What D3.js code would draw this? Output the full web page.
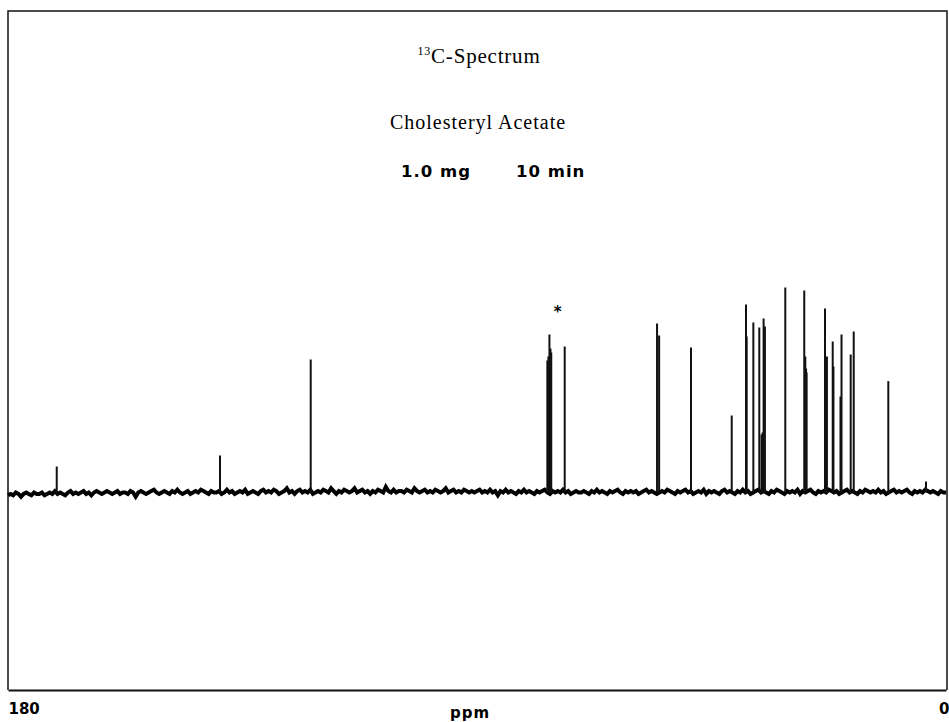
<!DOCTYPE html>
<html>
<head>
<meta charset="utf-8">
<script src="https://cdn.jsdelivr.net/npm/d3@7"></script>
<style>
  body { margin: 0; background: #fff; }
  svg { display: block; }
</style>
</head>
<body>
<svg id="chart" width="949" height="722"></svg>
<script>
// peak positions (ppm) and heights (fraction of the plot scale)
var peakPpm = [170.65, 139.32, 121.91, 76.5, 76.3, 76.1, 75.9, 75.75, 73.17, 55.45, 55.05, 48.93,
  41.12, 38.38, 38.25, 36.97, 35.83, 35.4, 35.2, 35.0, 34.75, 30.84,
  27.2, 27.0, 26.85, 26.75, 23.22, 22.85, 21.74, 21.6, 20.25, 20.05, 18.29,
  17.71, 11.07, 3.84];
var peakHeight = [0.13, 0.185, 0.665, 0.66, 0.68, 0.79, 0.72, 0.70, 0.73, 0.845, 0.785, 0.725,
  0.385, 0.94, 0.78, 0.85, 0.825, 0.29, 0.30, 0.87, 0.83, 1.025,
  1.01, 0.68, 0.62, 0.60, 0.92, 0.68, 0.755, 0.63, 0.48, 0.79, 0.69,
  0.805, 0.557, 0.055];

// baseline noise, one value every 0.5 ppm from 180 down to 0, in px of the trace (up = +)
var noiseStep = 0.5;
var baselineNoise = [
  -2,-1,-2,0,-1,-3,-1,0,-1,-2,0,-1,-1,0,-2,-1,0,-1,1,-1,
  0,-1,-2,0,1,-1,0,-1,0,1,-1,0,-2,0,1,0,-1,0,1,0,
  -1,0,1,-1,0,0,-1,1,0,-3,0,1,0,-1,0,1,2,0,-1,0,
  1,0,-1,1,0,2,0,-1,0,1,-1,0,1,0,2,1,0,-1,1,0,
  0,1,-1,0,2,0,1,-1,0,1,0,2,-1,0,1,0,-1,1,2,0,
  1,0,2,1,-1,0,1,3,0,1,-1,1,2,0,1,0,2,-1,0,1,
  0,2,1,0,3,1,-1,1,0,2,1,0,1,3,0,1,2,0,1,-1,
  1,0,2,1,0,4,1,0,2,0,1,1,0,2,1,0,3,1,0,1,
  2,0,1,0,2,1,0,1,3,0,1,2,0,1,0,2,1,0,1,0,
  1,2,0,1,0,2,0,1,-2,1,0,2,0,1,0,-1,1,0,2,0,
  1,0,-1,1,0,1,2,0,-1,1,0,1,0,2,0,1,-1,0,1,0,
  0,1,0,-1,1,0,2,0,1,0,-1,1,0,1,2,0,-1,1,0,1,
  0,1,-1,0,1,2,0,1,0,-1,0,1,0,2,1,0,-1,1,0,1,
  2,0,1,-1,0,1,0,2,-1,1,0,1,0,-1,1,2,0,1,0,-1,
  1,0,2,0,1,-1,0,1,2,0,1,0,-1,1,0,2,1,0,-1,1,
  0,1,0,2,-1,1,0,1,2,0,-1,1,0,1,0,2,1,0,1,-1,
  0,1,2,0,1,0,-1,1,0,2,1,0,1,0,2,0,1,-1,0,1,
  2,0,1,0,1,2,0,-1,1,0,1,0,2,1,0,1,0,-1,1,0,
  0
];

var axisTicks = [180, 0];
var titleLines = ["C-Spectrum", "Cholesteryl Acetate"];
var conditions = ["1.0 mg", "10 min"];
var solventMark = { ppm: 74.5, height: 0.88, text: "*" };

var svg = d3.select("#chart");

var x = d3.scaleLinear().domain([180, 0]).range([8, 946]);
var y = d3.scaleLinear().domain([0, 1]).range([492.5, 292.5]);
var pxToUnit = 1.4 / 200;

// frame
svg.append("path")
  .attr("d", "M8,690V11H947V690")
  .attr("fill", "none")
  .attr("stroke", "#111")
  .attr("stroke-width", 1.5);

// baseline trace
var noisePts = baselineNoise.map(function(v, i) {
  return [180 - i * noiseStep, v * pxToUnit];
});
var line = d3.line()
  .x(function(d) { return x(d[0]); })
  .y(function(d) { return y(d[1]); });

svg.append("path")
  .datum(noisePts)
  .attr("d", line)
  .attr("fill", "none")
  .attr("stroke", "#000")
  .attr("stroke-width", 4)
  .attr("stroke-linejoin", "miter");

// peaks
var peaks = peakPpm.map(function(p, i) { return { ppm: p, h: peakHeight[i] }; });
svg.append("g")
  .selectAll("line")
  .data(peaks)
  .enter()
  .append("line")
  .attr("x1", function(d) { return x(d.ppm); })
  .attr("x2", function(d) { return x(d.ppm); })
  .attr("y1", y(0))
  .attr("y2", function(d) { return y(d.h); })
  .attr("stroke", "#111")
  .attr("stroke-width", 2);

svg.append("text")
  .attr("x", x(solventMark.ppm))
  .attr("y", y(solventMark.height))
  .attr("text-anchor", "middle")
  .attr("font-family", "DejaVu Sans")
  .attr("font-weight", "bold")
  .attr("font-size", 15)
  .text(solventMark.text);

// axis
var axis = d3.axisBottom(x)
  .tickValues(axisTicks)
  .tickSize(0)
  .tickSizeOuter(0)
  .tickPadding(0)
  .tickFormat(d3.format("d"));

var gAxis = svg.append("g")
  .attr("transform", "translate(0,690)")
  .call(axis);
gAxis.select(".domain")
  .attr("stroke", "#111")
  .attr("stroke-width", 2);
gAxis.selectAll(".tick text")
  .attr("y", 24)
  .attr("dy", 0)
  .attr("fill", "#000")
  .attr("font-family", "DejaVu Sans")
  .attr("font-weight", "bold")
  .attr("font-size", 15)
  .attr("text-anchor", function(d) { return d === 180 ? "start" : "end"; })
  .attr("dx", function(d) { return d === 180 ? 0 : 3; });

svg.append("text")
  .attr("x", 470)
  .attr("y", 718)
  .attr("text-anchor", "middle")
  .attr("font-family", "DejaVu Sans")
  .attr("font-weight", "bold")
  .attr("font-size", 15)
  .attr("letter-spacing", 1)
  .text("ppm");

// titles
var t1 = svg.append("text")
  .attr("x", 479)
  .attr("y", 63)
  .attr("text-anchor", "middle")
  .attr("font-family", "Liberation Serif")
  .attr("font-size", 21)
  .attr("letter-spacing", 0.8);
t1.append("tspan")
  .attr("font-size", 12)
  .attr("dy", -8)
  .text("13");
t1.append("tspan")
  .attr("dy", 8)
  .text(titleLines[0]);

svg.append("text")
  .attr("x", 478)
  .attr("y", 129)
  .attr("text-anchor", "middle")
  .attr("font-family", "Liberation Serif")
  .attr("font-size", 20)
  .attr("letter-spacing", 1)
  .text(titleLines[1]);

svg.selectAll("text.cond")
  .data(conditions)
  .enter()
  .append("text")
  .attr("class", "cond")
  .attr("x", function(d, i) { return i === 0 ? 401 : 516; })
  .attr("y", 177)
  .attr("font-family", "DejaVu Sans")
  .attr("font-weight", "bold")
  .attr("font-size", 16.5)
  .attr("letter-spacing", 1)
  .text(function(d) { return d; });
</script>
</body>
</html>
